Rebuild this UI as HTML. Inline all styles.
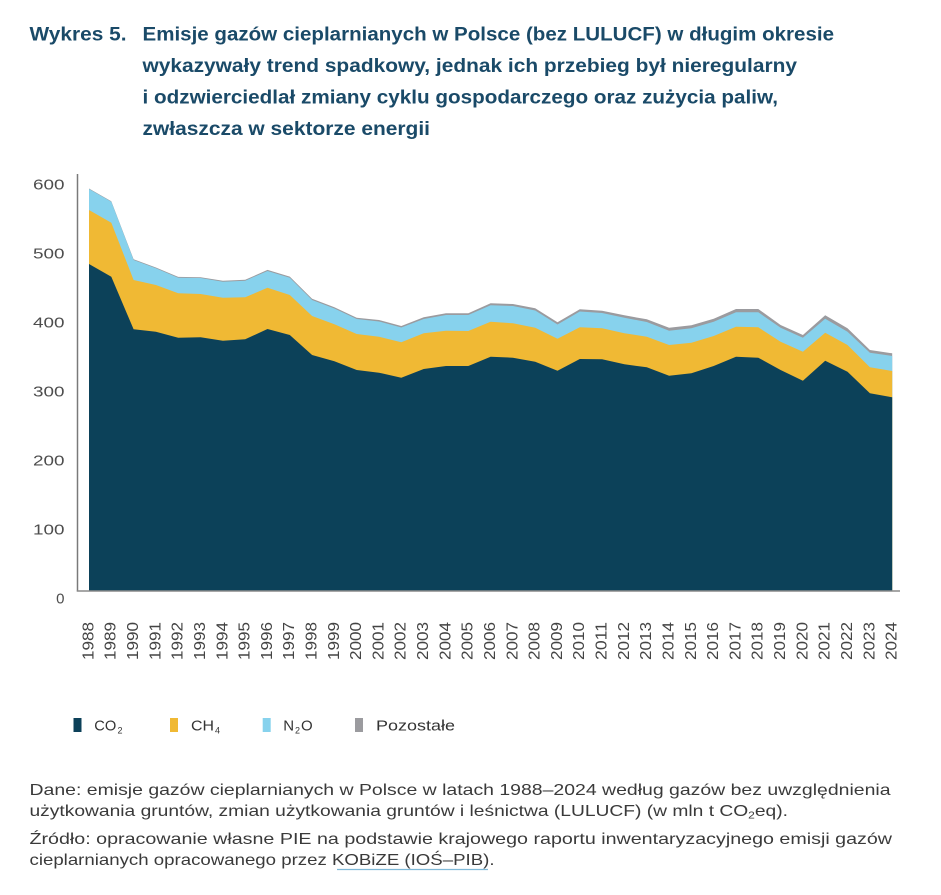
<!DOCTYPE html>
<html>
<head>
<meta charset="utf-8">
<style>
  html, body { margin: 0; padding: 0; background: #ffffff; }
  svg { display: block; }
  .title { font-family: "Liberation Sans", sans-serif; font-weight: bold; font-size: 19px; fill: #1a4a68; }
  .ytick { font-family: "Liberation Sans", sans-serif; font-size: 15px; fill: #4d4d4d; }
  .xtick { font-family: "Liberation Sans", sans-serif; font-size: 16px; fill: #444444; }
  .leg { font-family: "Liberation Sans", sans-serif; font-size: 15px; fill: #333333; }
  .foot { font-family: "Liberation Sans", sans-serif; font-size: 16px; fill: #3a3a3a; }
</style>
</head>
<body>
<svg width="941" height="895" viewBox="0 0 941 895" xmlns="http://www.w3.org/2000/svg">
  <rect x="0" y="0" width="941" height="895" fill="#ffffff"/>

  <!-- Title -->
  <text class="title" x="29.5" y="40.5" textLength="97" lengthAdjust="spacingAndGlyphs">Wykres 5.</text>
  <text class="title" x="142.5" y="40.5" textLength="691.5" lengthAdjust="spacingAndGlyphs">Emisje gazów cieplarnianych w Polsce (bez LULUCF) w długim okresie</text>
  <text class="title" x="142.5" y="72" textLength="654.5" lengthAdjust="spacingAndGlyphs">wykazywały trend spadkowy, jednak ich przebieg był nieregularny</text>
  <text class="title" x="142.5" y="103.5" textLength="635.5" lengthAdjust="spacingAndGlyphs">i odzwierciedlał zmiany cyklu gospodarczego oraz zużycia paliw,</text>
  <text class="title" x="142.5" y="135" textLength="287.5" lengthAdjust="spacingAndGlyphs">zwłaszcza w sektorze energii</text>

  <!-- Series: Pozostałe (total) -->
  <polygon fill="#9b9b9f" points="89.0,188.5 111.3,201.2 133.6,259.3 155.9,267.5 178.2,276.9 200.6,277.2 222.9,280.8 245.2,279.8 267.5,269.9 289.8,276.6 312.1,298.8 334.4,307.2 356.7,317.7 379.0,320 401.3,326 423.7,317.3 446.0,313.3 468.3,313.3 490.6,303.3 512.9,304 535.2,308.3 557.5,322.3 579.8,309.3 602.1,310.7 624.4,315.3 646.8,319.3 669.1,327.7 691.4,325.3 713.7,318.7 736.0,309 758.3,309 780.6,325 802.9,335 825.2,315.3 847.5,328.3 869.9,350 892.2,353.3 892.2,591 89.0,591"/>
  <!-- N2O -->
  <polygon fill="#87d2ed" points="89.0,189 111.3,201.7 133.6,260 155.9,268.3 178.2,277.7 200.6,278 222.9,281.7 245.2,280.7 267.5,271 289.8,277.7 312.1,300 334.4,308.5 356.7,319 379.0,321.5 401.3,327.5 423.7,319 446.0,315 468.3,315 490.6,305.3 512.9,306 535.2,310.5 557.5,324.5 579.8,311.5 602.1,313 624.4,317.8 646.8,322 669.1,330.7 691.4,328.3 713.7,321.7 736.0,312.3 758.3,312.3 780.6,327.7 802.9,337.7 825.2,318.7 847.5,331.7 869.9,352.7 892.2,356 892.2,591 89.0,591"/>
  <!-- CH4 -->
  <polygon fill="#f0b934" points="89.0,210 111.3,222.7 133.6,280 155.9,285 178.2,293.3 200.6,294 222.9,297.7 245.2,297.3 267.5,287.7 289.8,295 312.1,316 334.4,324.3 356.7,334 379.0,336.7 401.3,342.3 423.7,333.3 446.0,330.7 468.3,331 490.6,321.7 512.9,323.3 535.2,327.7 557.5,338.7 579.8,327.3 602.1,328.3 624.4,333.3 646.8,336.7 669.1,345 691.4,342.7 713.7,336 736.0,326.7 758.3,327.3 780.6,341.7 802.9,351.7 825.2,332.7 847.5,345 869.9,367.3 892.2,371 892.2,591 89.0,591"/>
  <!-- CO2 -->
  <polygon fill="#0c4159" points="89.0,264 111.3,276.7 133.6,329.3 155.9,331.7 178.2,337.7 200.6,337.3 222.9,340.7 245.2,339.3 267.5,329 289.8,335 312.1,355 334.4,361.3 356.7,370 379.0,372.7 401.3,377.7 423.7,369 446.0,366 468.3,366 490.6,356.7 512.9,357.7 535.2,361.7 557.5,370.7 579.8,359 602.1,359.3 624.4,364.3 646.8,367.3 669.1,375.7 691.4,373.3 713.7,366 736.0,356.7 758.3,357.7 780.6,370 802.9,380.7 825.2,360.7 847.5,371.7 869.9,393.3 892.2,397.3 892.2,591 89.0,591"/>

  <!-- Axes -->
  <line x1="77.5" y1="174" x2="77.5" y2="591.5" stroke="#7a7a7a" stroke-width="1.5"/>
  <line x1="76.8" y1="591" x2="900" y2="591" stroke="#8a8a8a" stroke-width="1.5"/>

  <!-- Y ticks -->
  <text class="ytick" x="64.5" y="189.3" text-anchor="end" textLength="31.5" lengthAdjust="spacingAndGlyphs">600</text>
  <text class="ytick" x="64.5" y="258.3" text-anchor="end" textLength="31.5" lengthAdjust="spacingAndGlyphs">500</text>
  <text class="ytick" x="64.5" y="327.4" text-anchor="end" textLength="31.5" lengthAdjust="spacingAndGlyphs">400</text>
  <text class="ytick" x="64.5" y="396.5" text-anchor="end" textLength="31.5" lengthAdjust="spacingAndGlyphs">300</text>
  <text class="ytick" x="64.5" y="465.5" text-anchor="end" textLength="31.5" lengthAdjust="spacingAndGlyphs">200</text>
  <text class="ytick" x="64.5" y="534.5" text-anchor="end" textLength="31.5" lengthAdjust="spacingAndGlyphs">100</text>
  <text class="ytick" x="64.5" y="603.6" text-anchor="end">0</text>

  <!-- X ticks -->
  <g class="xtick">
    <text transform="translate(93.4,622) rotate(-90)" text-anchor="end" textLength="38" lengthAdjust="spacingAndGlyphs">1988</text>
    <text transform="translate(115.7,622) rotate(-90)" text-anchor="end" textLength="38" lengthAdjust="spacingAndGlyphs">1989</text>
    <text transform="translate(138.0,622) rotate(-90)" text-anchor="end" textLength="38" lengthAdjust="spacingAndGlyphs">1990</text>
    <text transform="translate(160.3,622) rotate(-90)" text-anchor="end" textLength="38" lengthAdjust="spacingAndGlyphs">1991</text>
    <text transform="translate(182.6,622) rotate(-90)" text-anchor="end" textLength="38" lengthAdjust="spacingAndGlyphs">1992</text>
    <text transform="translate(205.0,622) rotate(-90)" text-anchor="end" textLength="38" lengthAdjust="spacingAndGlyphs">1993</text>
    <text transform="translate(227.3,622) rotate(-90)" text-anchor="end" textLength="38" lengthAdjust="spacingAndGlyphs">1994</text>
    <text transform="translate(249.6,622) rotate(-90)" text-anchor="end" textLength="38" lengthAdjust="spacingAndGlyphs">1995</text>
    <text transform="translate(271.9,622) rotate(-90)" text-anchor="end" textLength="38" lengthAdjust="spacingAndGlyphs">1996</text>
    <text transform="translate(294.2,622) rotate(-90)" text-anchor="end" textLength="38" lengthAdjust="spacingAndGlyphs">1997</text>
    <text transform="translate(316.5,622) rotate(-90)" text-anchor="end" textLength="38" lengthAdjust="spacingAndGlyphs">1998</text>
    <text transform="translate(338.8,622) rotate(-90)" text-anchor="end" textLength="38" lengthAdjust="spacingAndGlyphs">1999</text>
    <text transform="translate(361.1,622) rotate(-90)" text-anchor="end" textLength="38" lengthAdjust="spacingAndGlyphs">2000</text>
    <text transform="translate(383.4,622) rotate(-90)" text-anchor="end" textLength="38" lengthAdjust="spacingAndGlyphs">2001</text>
    <text transform="translate(405.7,622) rotate(-90)" text-anchor="end" textLength="38" lengthAdjust="spacingAndGlyphs">2002</text>
    <text transform="translate(428.1,622) rotate(-90)" text-anchor="end" textLength="38" lengthAdjust="spacingAndGlyphs">2003</text>
    <text transform="translate(450.4,622) rotate(-90)" text-anchor="end" textLength="38" lengthAdjust="spacingAndGlyphs">2004</text>
    <text transform="translate(472.7,622) rotate(-90)" text-anchor="end" textLength="38" lengthAdjust="spacingAndGlyphs">2005</text>
    <text transform="translate(495.0,622) rotate(-90)" text-anchor="end" textLength="38" lengthAdjust="spacingAndGlyphs">2006</text>
    <text transform="translate(517.3,622) rotate(-90)" text-anchor="end" textLength="38" lengthAdjust="spacingAndGlyphs">2007</text>
    <text transform="translate(539.6,622) rotate(-90)" text-anchor="end" textLength="38" lengthAdjust="spacingAndGlyphs">2008</text>
    <text transform="translate(561.9,622) rotate(-90)" text-anchor="end" textLength="38" lengthAdjust="spacingAndGlyphs">2009</text>
    <text transform="translate(584.2,622) rotate(-90)" text-anchor="end" textLength="38" lengthAdjust="spacingAndGlyphs">2010</text>
    <text transform="translate(606.5,622) rotate(-90)" text-anchor="end" textLength="38" lengthAdjust="spacingAndGlyphs">2011</text>
    <text transform="translate(628.8,622) rotate(-90)" text-anchor="end" textLength="38" lengthAdjust="spacingAndGlyphs">2012</text>
    <text transform="translate(651.2,622) rotate(-90)" text-anchor="end" textLength="38" lengthAdjust="spacingAndGlyphs">2013</text>
    <text transform="translate(673.5,622) rotate(-90)" text-anchor="end" textLength="38" lengthAdjust="spacingAndGlyphs">2014</text>
    <text transform="translate(695.8,622) rotate(-90)" text-anchor="end" textLength="38" lengthAdjust="spacingAndGlyphs">2015</text>
    <text transform="translate(718.1,622) rotate(-90)" text-anchor="end" textLength="38" lengthAdjust="spacingAndGlyphs">2016</text>
    <text transform="translate(740.4,622) rotate(-90)" text-anchor="end" textLength="38" lengthAdjust="spacingAndGlyphs">2017</text>
    <text transform="translate(762.7,622) rotate(-90)" text-anchor="end" textLength="38" lengthAdjust="spacingAndGlyphs">2018</text>
    <text transform="translate(785.0,622) rotate(-90)" text-anchor="end" textLength="38" lengthAdjust="spacingAndGlyphs">2019</text>
    <text transform="translate(807.3,622) rotate(-90)" text-anchor="end" textLength="38" lengthAdjust="spacingAndGlyphs">2020</text>
    <text transform="translate(829.6,622) rotate(-90)" text-anchor="end" textLength="38" lengthAdjust="spacingAndGlyphs">2021</text>
    <text transform="translate(851.9,622) rotate(-90)" text-anchor="end" textLength="38" lengthAdjust="spacingAndGlyphs">2022</text>
    <text transform="translate(874.3,622) rotate(-90)" text-anchor="end" textLength="38" lengthAdjust="spacingAndGlyphs">2023</text>
    <text transform="translate(896.6,622) rotate(-90)" text-anchor="end" textLength="38" lengthAdjust="spacingAndGlyphs">2024</text>
  </g>

  <!-- Legend -->
  <rect x="73.5" y="718" width="8" height="14" fill="#0c4159"/>
  <text class="leg" x="94.3" y="730.5" textLength="22" lengthAdjust="spacingAndGlyphs">CO</text>
  <text class="leg" x="117.5" y="733.5" style="font-size:9px">2</text>

  <rect x="170" y="718" width="8" height="14" fill="#f0b934"/>
  <text class="leg" x="191" y="730.5" textLength="23" lengthAdjust="spacingAndGlyphs">CH</text>
  <text class="leg" x="215" y="733.5" style="font-size:9px">4</text>

  <rect x="262.7" y="718" width="8" height="14" fill="#87d2ed"/>
  <text class="leg" x="283.3" y="730.5">N</text>
  <text class="leg" x="295" y="733.5" style="font-size:9px">2</text>
  <text class="leg" x="301" y="730.5">O</text>

  <rect x="355" y="718" width="8" height="14" fill="#9b9b9f"/>
  <text class="leg" x="376" y="730.5" textLength="79" lengthAdjust="spacingAndGlyphs">Pozostałe</text>

  <!-- Footer -->
  <text class="foot" x="29.5" y="795" textLength="861" lengthAdjust="spacingAndGlyphs">Dane: emisje gazów cieplarnianych w Polsce w latach 1988–2024 według gazów bez uwzględnienia</text>
  <text class="foot" x="29.5" y="816" textLength="758.5" lengthAdjust="spacingAndGlyphs">użytkowania gruntów, zmian użytkowania gruntów i leśnictwa (LULUCF) (w mln t CO<tspan style="font-size:10px" dy="2.5">2</tspan><tspan dy="-2.5">eq).</tspan></text>
  <text class="foot" x="29.5" y="844" textLength="862.5" lengthAdjust="spacingAndGlyphs">Źródło: opracowanie własne PIE na podstawie krajowego raportu inwentaryzacyjnego emisji gazów</text>
  <text class="foot" x="29.5" y="865" textLength="465" lengthAdjust="spacingAndGlyphs">cieplarnianych opracowanego przez KOBiZE (IOŚ–PIB).</text>
  <line x1="337" y1="869.5" x2="488" y2="869.5" stroke="#7fb9d8" stroke-width="1.3"/>
</svg>
</body>
</html>
